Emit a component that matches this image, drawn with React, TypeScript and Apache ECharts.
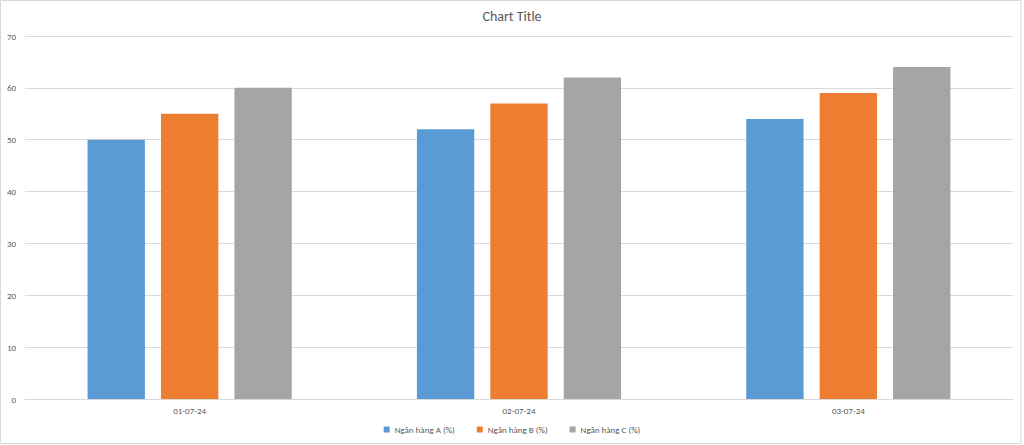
import React, { useEffect, useRef } from "react";
import * as echarts from "echarts";

const categories = ["01-07-24", "02-07-24", "03-07-24"];
const seriesNames = ["Ngân hàng A (%)", "Ngân hàng B (%)", "Ngân hàng C (%)"];
const bankA = [50, 52, 54];
const bankB = [55, 57, 59];
const bankC = [60, 62, 64];
const colors = ["#5B9BD5", "#ED7D31", "#A5A5A5"];

const App: React.FC = () => {
  const chartRef = useRef<HTMLDivElement>(null);

  useEffect(() => {
    if (!chartRef.current) return;
    const chart = echarts.init(chartRef.current, undefined, { renderer: "svg" });
    const font = "Calibri, 'Liberation Sans', 'Noto Sans', sans-serif";
    const values = [bankA, bankB, bankC];

    chart.setOption({
      animation: false,
      color: colors,
      textStyle: { fontFamily: font },
      title: {
        text: "Chart Title",
        left: "center",
        top: 4,
        textStyle: { fontSize: 14, fontWeight: "normal", color: "#595959", fontFamily: font },
      },
      legend: {
        bottom: 6,
        left: "center",
        itemWidth: 6,
        itemHeight: 6,
        itemGap: 22,
        icon: "rect",
        textStyle: { fontSize: 9, color: "#595959", fontFamily: font },
        data: seriesNames,
      },
      graphic: [
        {
          type: "rect",
          shape: { x: 0.5, y: 0.5, width: 1020.5, height: 443 },
          style: { fill: "none", stroke: "#D9D9D9", lineWidth: 1 },
          silent: true,
        },
      ],
      grid: { left: 25, right: 11, top: 36, bottom: 46, containLabel: false },
      xAxis: {
        type: "category",
        data: categories,
        axisLine: { lineStyle: { color: "#D9D9D9" } },
        axisTick: { show: false },
        axisLabel: { fontSize: 9, color: "#595959", margin: 7 },
      },
      yAxis: {
        type: "value",
        min: 0,
        max: 70,
        interval: 10,
        axisLine: { show: false },
        axisTick: { show: false },
        splitLine: { lineStyle: { color: "#D9D9D9" } },
        axisLabel: { fontSize: 9, color: "#595959", margin: 9 },
      },
      series: seriesNames.map((name, i) => ({
        name,
        type: "bar",
        data: values[i],
        barGap: "28%",
        barCategoryGap: "38%",
        itemStyle: { color: colors[i] },
      })),
    });

    return () => {
      chart.dispose();
    };
  }, []);

  return (
    <div
      ref={chartRef}
      style={{ position: "absolute", left: 0, top: 0, width: "1024px", height: "445px", background: "#fff" }}
    />
  );
};

export default App;
